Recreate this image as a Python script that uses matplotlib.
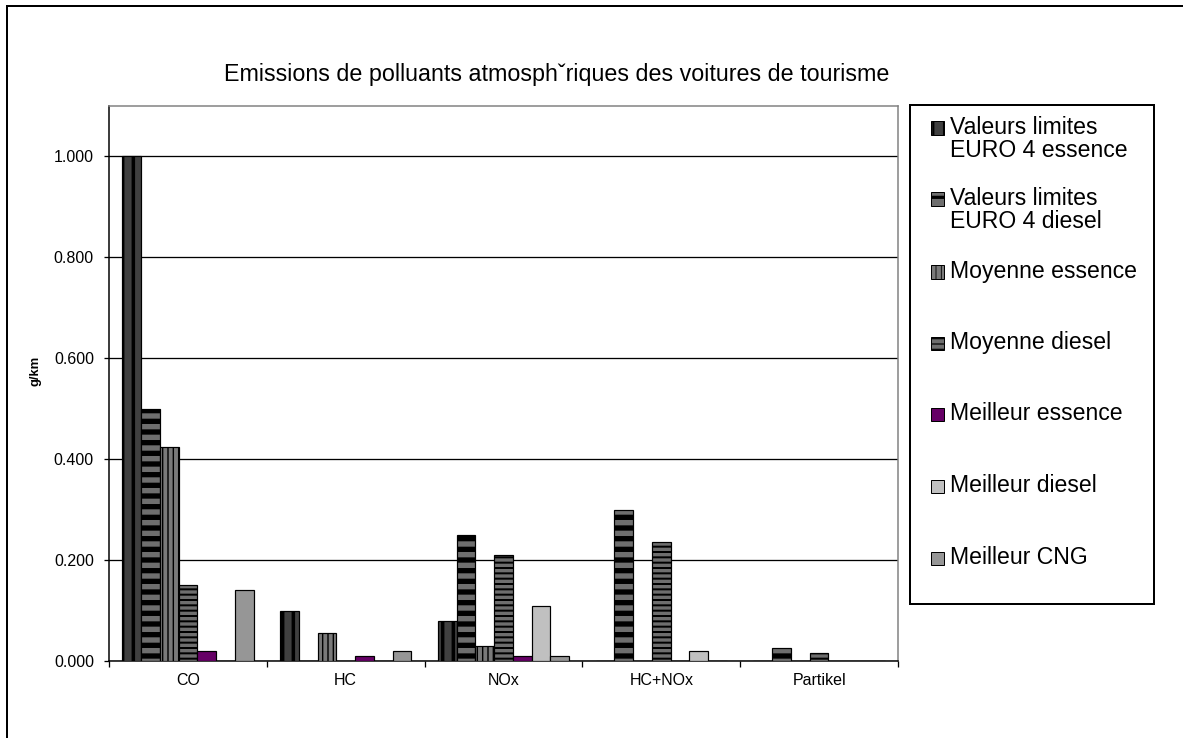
import numpy as np
import matplotlib
matplotlib.use('Agg')
import matplotlib.pyplot as plt
from matplotlib.patches import Rectangle

# emission values in g/km
categories = ['CO', 'HC', 'NOx', 'HC+NOx', 'Partikel']
series_names = ['Valeurs limites\nEURO 4 essence', 'Valeurs limites\nEURO 4 diesel',
                'Moyenne essence', 'Moyenne diesel', 'Meilleur essence',
                'Meilleur diesel', 'Meilleur CNG']
limite_essence = [1.000, 0.100, 0.080, 0.0, 0.0]
limite_diesel = [0.500, 0.0, 0.250, 0.300, 0.025]
moyenne_essence = [0.425, 0.055, 0.030, 0.0, 0.0]
moyenne_diesel = [0.150, 0.0, 0.210, 0.235, 0.015]
meilleur_essence = [0.020, 0.010, 0.010, 0.0, 0.0]
meilleur_diesel = [0.0, 0.0, 0.110, 0.020, 0.0]
meilleur_cng = [0.140, 0.020, 0.010, 0.0, 0.0]
series = [limite_essence, limite_diesel, moyenne_essence, moyenne_diesel,
          meilleur_essence, meilleur_diesel, meilleur_cng]

# fill colour, hatch, hatch line width (px)
styles = [('#404040', '|', 3.5), ('#6e6e6e', '-', 5.3), ('#7a7a7a', '||', 1.4),
          ('#6e6e6e', '--', 2.0), ('#660066', None, 0), ('#c0c0c0', None, 0),
          ('#969696', None, 0)]

DPI = 64  # hatch tile = 1 inch, so 64 px here
W, H = 1183, 738


def pt(px):
    return px * 72.0 / DPI


plt.rcParams['font.family'] = ['Liberation Sans', 'DejaVu Sans']

fig = plt.figure(figsize=(W / DPI, H / DPI), dpi=DPI)
ax = fig.add_axes([109 / W, 1 - 661 / H, (898 - 109) / W, (661 - 106) / H])

x = np.arange(len(categories))
bw = 0.119
n = len(series)
for i, (vals, (fc, hatch, hlw)) in enumerate(zip(series, styles)):
    if hatch:
        plt.rcParams['hatch.linewidth'] = pt(hlw)
    bars = ax.bar(x + (i - (n - 1) / 2) * bw, vals, bw, color=fc, edgecolor='black',
                  linewidth=pt(1.2), hatch=hatch, zorder=3)
    if hatch:
        for b in bars:
            if hasattr(b, 'set_hatch_linewidth'):
                b.set_hatch_linewidth(pt(hlw))

ax.set_xlim(-0.5, len(categories) - 0.5)
ax.set_ylim(0, 1.1)
ax.set_yticks(np.arange(0, 1.01, 0.2))
ax.set_yticklabels(['%.3f' % v for v in np.arange(0, 1.01, 0.2)])
ax.yaxis.grid(True, color='black', linewidth=pt(1.3), zorder=0)
ax.set_axisbelow(True)
ax.set_xticks(x)
ax.set_xticklabels(categories)
ax.set_xticks(np.arange(-0.5, len(categories)), minor=True)
ax.tick_params(axis='x', which='major', length=0, pad=pt(12), labelsize=pt(16))
ax.tick_params(axis='x', which='minor', length=pt(6), width=pt(1.3), direction='out')
ax.tick_params(axis='y', length=pt(5), width=pt(1.3), pad=pt(10), labelsize=pt(16))

for side in ('left', 'bottom'):
    ax.spines[side].set_color('black')
    ax.spines[side].set_linewidth(pt(1.5))
for side in ('top', 'right'):
    ax.spines[side].set_color('#808080')
    ax.spines[side].set_linewidth(pt(1.5))

fig.text(35 / W, 1 - 371 / H, 'g/km', rotation=90, ha='center', va='center',
         fontsize=pt(13), fontweight='bold')

fig.text(557 / W, 1 - 75 / H,
         'Emissions de polluants atmosph\u02c7riques des voitures de tourisme',
         ha='center', va='center', fontsize=pt(23.3))

# chart area frame
fig.patches.append(Rectangle((7 / W, -0.2), 1.5, 1.2 - 6 / H, transform=fig.transFigure,
                             fill=False, edgecolor='black', linewidth=pt(2)))

# legend box
fig.patches.append(Rectangle((910 / W, 1 - 604 / H), (1154 - 910) / W, (604 - 105) / H,
                             transform=fig.transFigure, facecolor='white',
                             edgecolor='black', linewidth=pt(2)))
line_y = [128, 199, 272, 343, 414, 486, 558]
for name, (fc, hatch, hlw), y in zip(series_names, styles, line_y):
    if hatch:
        plt.rcParams['hatch.linewidth'] = pt(hlw * 0.6)
    sw = Rectangle((931 / W, 1 - (y + 6.5) / H), 13 / W, 13 / H, transform=fig.transFigure,
                   facecolor=fc, edgecolor='black', linewidth=pt(1), hatch=hatch)
    if hatch and hasattr(sw, 'set_hatch_linewidth'):
        sw.set_hatch_linewidth(pt(hlw * 0.6))
    fig.patches.append(sw)
    fig.text(950 / W, 1 - (y - 12) / H, name, ha='left', va='top',
             fontsize=pt(23), linespacing=1.0)

fig.savefig('out.png', dpi=DPI)
